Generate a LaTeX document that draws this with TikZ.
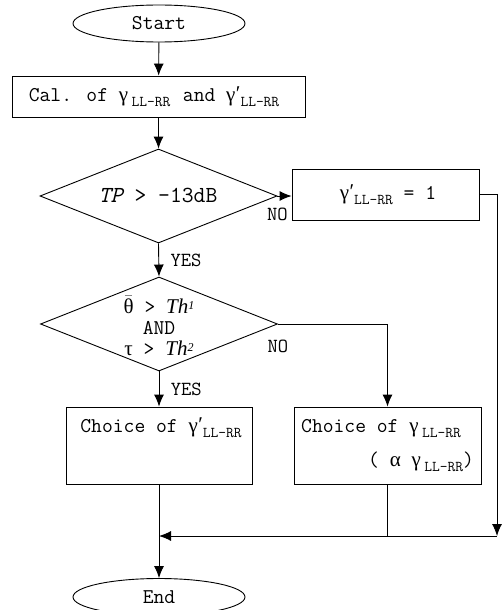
\documentclass[tikz,border=0pt]{standalone}
\usepackage{fontspec}
\newfontfamily\grk{Liberation Serif}
\usetikzlibrary{shapes.geometric,arrows.meta,positioning}
\newcommand{\gm}{{\grk γ}}
\newcommand{\gmp}{{\grk γ\kern0.5pt\raisebox{1pt}{′}}}
\newcommand{\llrr}{\raisebox{-5pt}{\fontsize{15}{15}\selectfont LL-RR}}
\newcommand{\thr}[1]{{\grk\itshape Th}\raisebox{4pt}{\fontsize{12}{12}\grk\itshape #1}}
\newcommand{\thbar}{\ensuremath{\bar{\hbox{\grk θ}}}}
\begin{document}
\begin{tikzpicture}[x=1pt,y=-1pt,line width=0.9pt,
  font=\ttfamily\fontsize{21}{23}\selectfont,
  term/.style={draw,ellipse,minimum width=172pt,minimum height=37pt,inner sep=0pt},
  proc/.style={draw,rectangle,inner sep=0pt},
  dec/.style={draw,diamond,minimum width=237pt,minimum height=94pt,inner sep=0pt},
  arr/.style={-{Latex[length=12pt,width=10pt]}},
  lab/.style={font=\ttfamily\fontsize{20}{20}\selectfont}]
\useasboundingbox (0,0) rectangle (501,610);
% nodes
\node[term] (start) at (159,23.5) {Start};
\node[proc,minimum width=293pt,minimum height=41pt] (calc) at (158.5,96.5) {};
\node (calctxt) at (154,97) {Cal. of \gm\,\llrr\hspace{0.6em}and \gmp\llrr};
\node[dec] (tp) at (158.5,196) {};
\node (tptxt) at (158,195) [font=\ttfamily\fontsize{23}{23}\selectfont] {{\itshape TP} > -13dB};
\node[proc,minimum width=187pt,minimum height=51pt] (one) at (385.5,194.5) {};
\node (onetxt) at (388,195) {\gmp\llrr{} = 1};
\node[dec] (cond) at (159,324) {};
\node (condtxt) at (159,326) [align=center,font=\ttfamily\fontsize{21}{21}\selectfont]
  {\thbar{} > \thr{1}\\AND\\{\grk τ} > \thr{2}};
\node[proc,minimum width=186pt,minimum height=77pt] (cl) at (159,445.5) {};
\node[proc,minimum width=187pt,minimum height=77pt] (cr) at (387.5,445.5) {};
\node (cltxt) at (161,428) {Choice of \gmp\llrr};
\node (crtxt) at (381,429) {Choice of \gm\,\llrr};
\node (crtxtb) at (421,462) {( {\grk α} \gm\,\llrr)};
\node[term] (end) at (159,597) {End};
\coordinate (jr) at (497,536);
\coordinate (jm) at (cr.south |- jr);
\coordinate (jl) at (cl.south |- jr);
% connectors
\draw[arr] (start) -- (calc);
\draw[arr] (calc) -- (tp);
\draw[arr] (tp.east) -- node[lab,pos=0,anchor=north,yshift=-8pt]{NO} (one.west |- tp.east);
\draw[arr] (one.east) -| (jr);
\draw[arr] (tp.south) -- node[lab,right,xshift=8pt]{YES} (cond.north);
\draw[arr] (cond.east) -- node[lab,pos=0,anchor=north,yshift=-12pt]{NO} (cr.north |- cond.east) -- (cr.north);
\draw[arr] (cond.south) -- node[lab,right,xshift=8pt]{YES} (cl.north);
\draw[arr] (cl.south) -- (end);
\draw (cr.south) -- (jm);
\draw[arr] (jr) -- (jl);
\end{tikzpicture}
\end{document}
